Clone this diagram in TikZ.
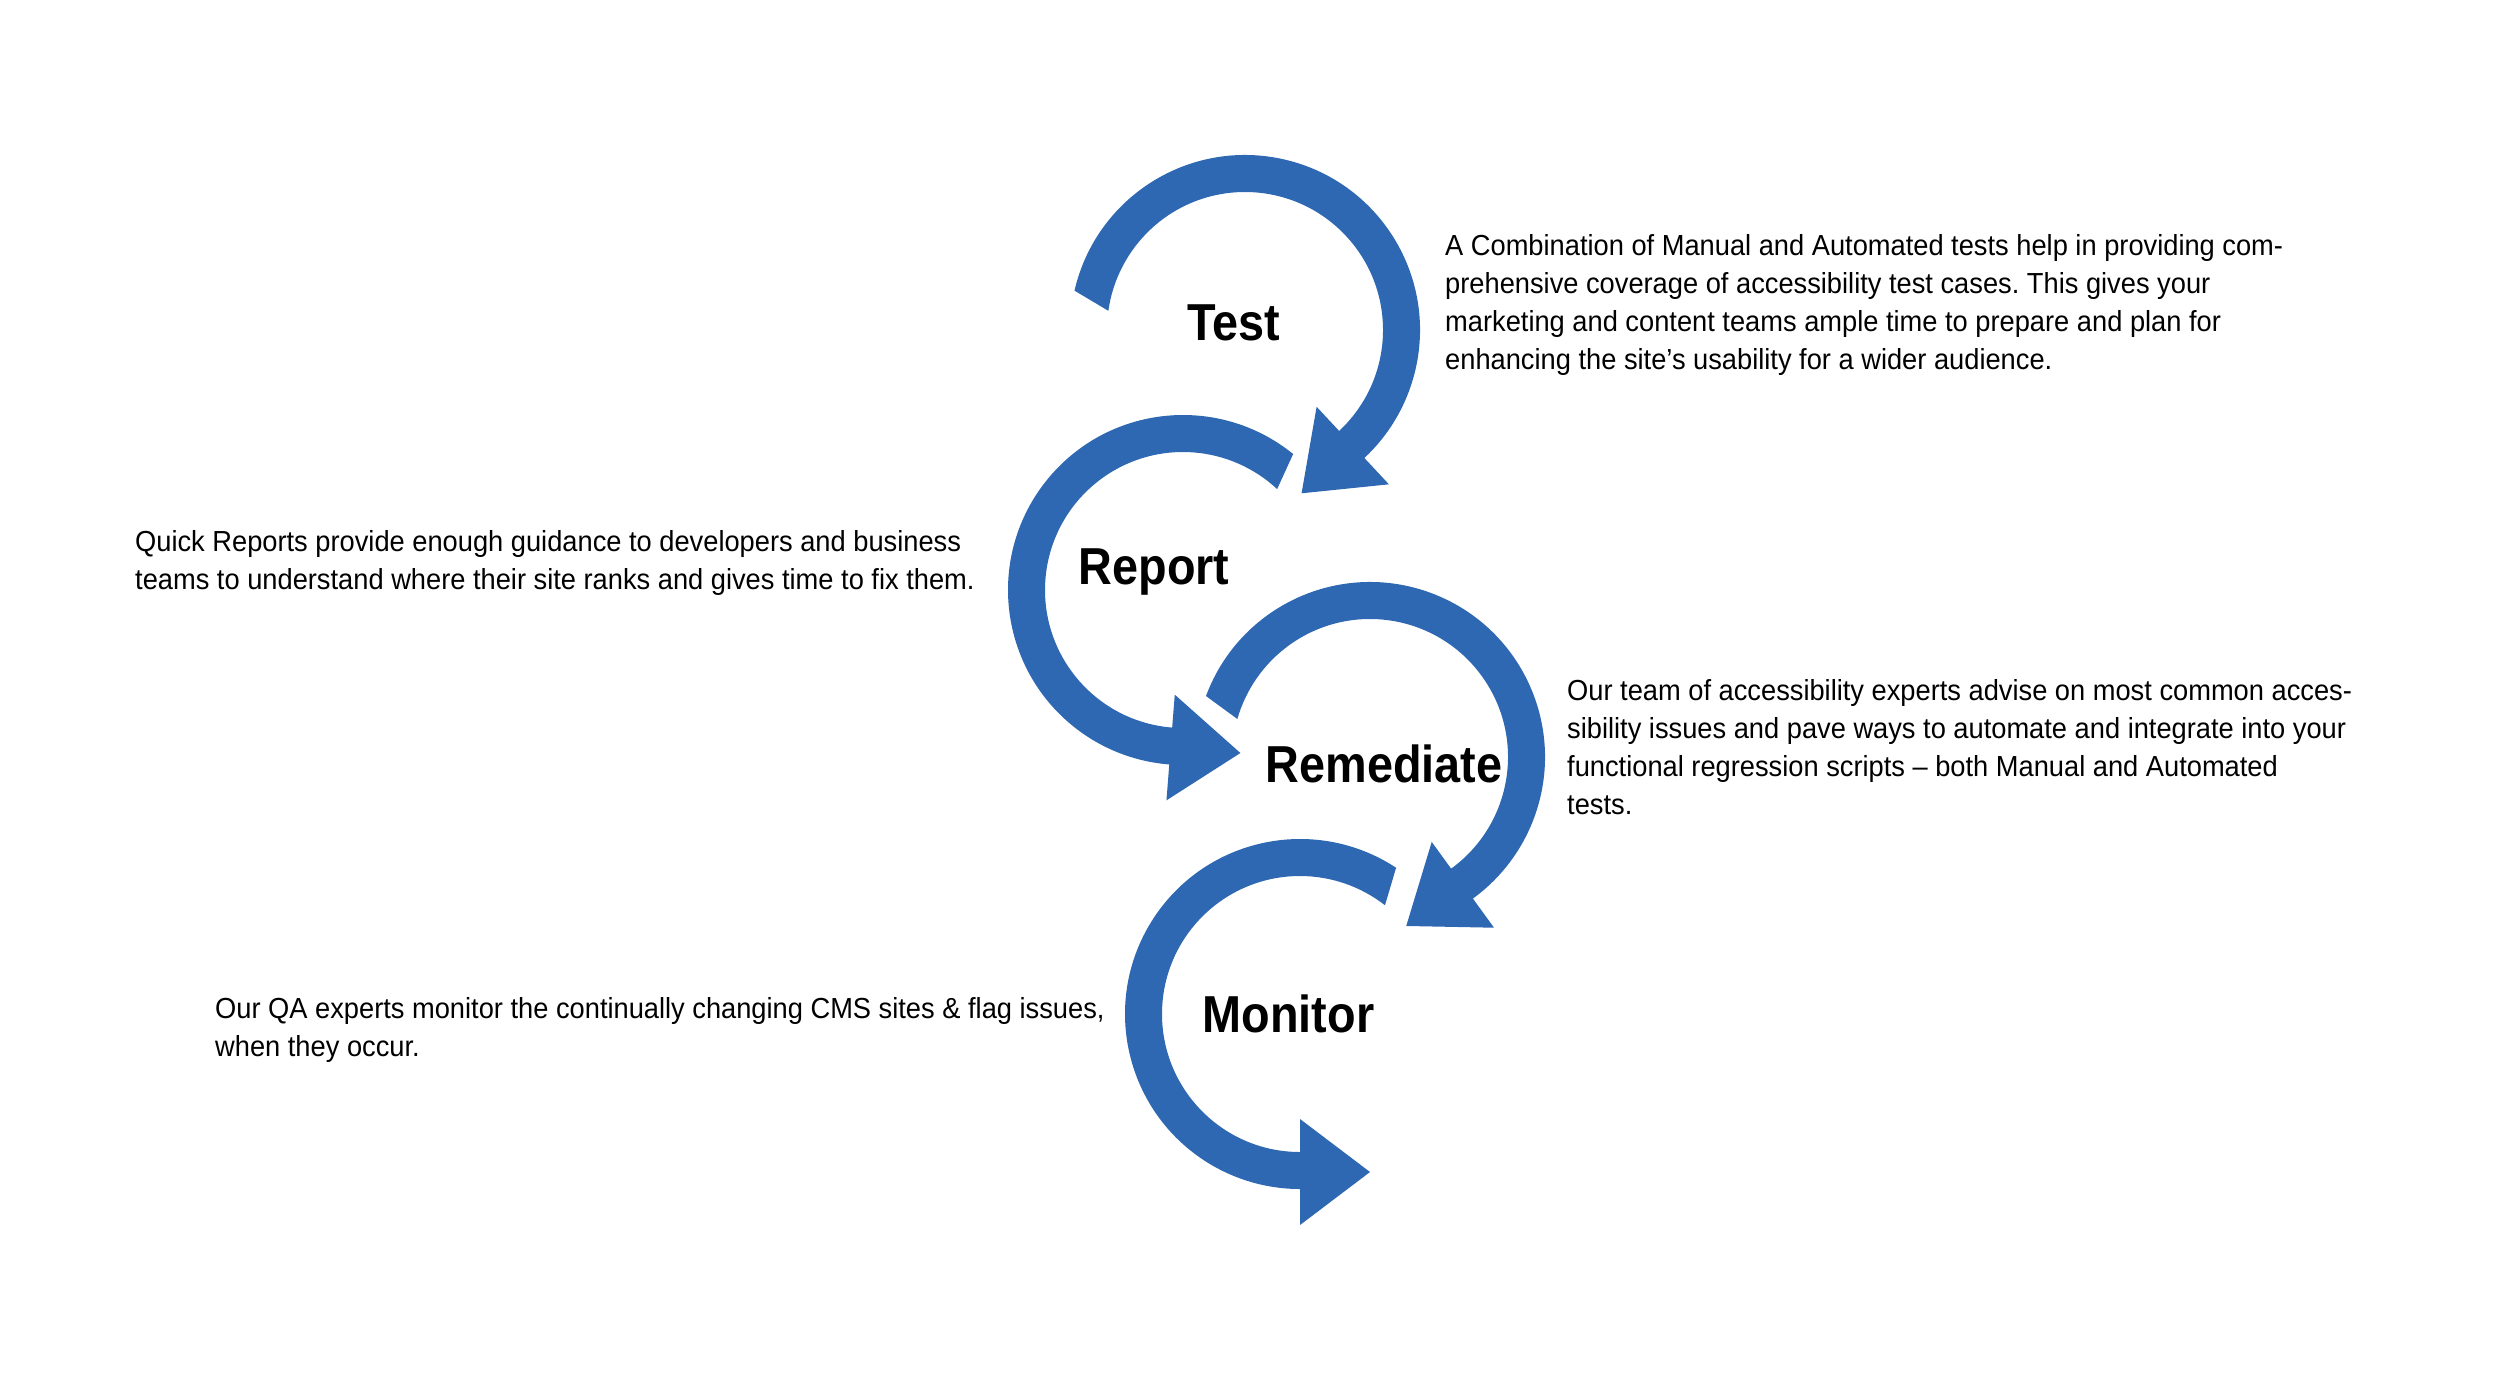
\documentclass[tikz,border=0pt]{standalone}
\usepackage{fontspec}
\usetikzlibrary{calc}
\newfontfamily\bodyfont{Liberation Sans}[FakeStretch=0.94,Ligatures=TeX]
\newfontfamily\labelfont{Liberation Sans}[FakeStretch=0.9]
\definecolor{swirlblue}{RGB}{47,104,178}
\frenchspacing
% #1 centre, #2 outer start angle, #3 inner start angle, #4 end angle, #5 tip direction angle
\newcommand{\swirlarrow}[5]{%
  \fill[swirlblue] ($(#1)+(#2:175pt)$) arc[start angle=#2, end angle=#4, radius=175pt]
    -- ($(#1)+(#4:211pt)$)
    -- ($(#1)+(#4:158pt)+(#5:70pt)$)
    -- ($(#1)+(#4:105pt)$)
    -- ($(#1)+(#4:138pt)$) arc[start angle=#4, end angle=#3, radius=138pt]
    -- cycle;}
\begin{document}
\begin{tikzpicture}[x=1pt,y=1pt,
  lbl/.style={inner sep=0pt, font=\labelfont\bfseries\fontsize{52pt}{60pt}\selectfont, text=black},
  desc/.style={inner sep=0pt, anchor=north west, align=left, text=black,
    font=\bodyfont\frenchspacing\fontsize{29pt}{38pt}\selectfont}]
\useasboundingbox (0,0) rectangle (2514,-1374);
\fill[white] (0,0) rectangle (2514,-1374);

\coordinate (ctest) at (1245,-330);
\coordinate (creport) at (1183,-590);
\coordinate (cremed) at (1370,-757);
\coordinate (cmon) at (1300,-1014);

% arrows
\swirlarrow{ctest}{167}{172}{-47}{-137}
\swirlarrow{creport}{51}{47}{265.5}{355.5}
\swirlarrow{cremed}{159.6}{164}{-54}{-144}
\swirlarrow{cmon}{56.7}{52}{270}{360}

% labels
\node[lbl, anchor=base] (test) at (1233.5,-340) {Test};
\node[lbl, anchor=base] (report) at (1154,-584) {Report};
\node[lbl, anchor=base] (remediate) at (1384,-782) {Remediate};
\node[lbl, anchor=base] (monitor) at (1288.5,-1032) {Monitor};

% descriptions
\node[desc] (dtest) at (1445,-230.5) {\rule{0pt}{25pt}A Combination of Manual and Automated tests help in providing com-\\
prehensive coverage of accessibility test cases. This gives your\\
marketing and content teams ample time to prepare and plan for\\
enhancing the site’s usability for a wider audience.};

\node[desc] (dreport) at (135,-526.5) {\rule{0pt}{25pt}Quick Reports provide enough guidance to developers and business\\
teams to understand where their site ranks and gives time to fix them.};

\node[desc] (dremed) at (1567,-675.5) {\rule{0pt}{25pt}Our team of accessibility experts advise on most common acces-\\
sibility issues and pave ways to automate and integrate into your\\
functional regression scripts \textendash{} both Manual and Automated\\
tests.};

\node[desc] (dmon) at (215,-993.5) {\rule{0pt}{25pt}Our QA experts monitor the continually changing CMS sites \& flag issues,\\
when they occur.};
\end{tikzpicture}
\end{document}
